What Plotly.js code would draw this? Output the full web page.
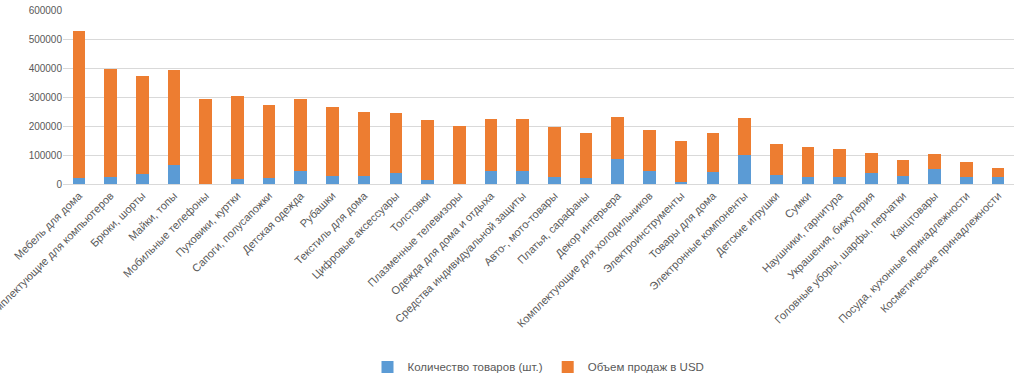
<!DOCTYPE html>
<html>
<head>
<meta charset="utf-8">
<script src="https://cdn.plot.ly/plotly-3.0.1.min.js"></script>
<style>html,body{margin:0;padding:0;background:#fff;}#chart{width:1024px;height:383px;}</style>
</head>
<body>
<div id="chart"></div>
<script>
const categories = [
  "Мебель для дома","Комплектующие для компьютеров","Брюки, шорты","Майки, топы","Мобильные телефоны",
  "Пуховики, куртки","Сапоги, полусапожки","Детская одежда","Рубашки","Текстиль для дома",
  "Цифровые аксессуары","Толстовки","Плазменные телевизоры","Одежда для дома и отдыха","Средства индивидуальной защиты",
  "Авто-, мото-товары","Платья, сарафаны","Декор интерьера","Комплектующие для холодильников","Электроинструменты",
  "Товары для дома","Электронные компоненты","Детские игрушки","Сумки","Наушники, гарнитура",
  "Украшения, бижутерия","Головные уборы, шарфы, перчатки","Канцтовары","Посуда, кухонные принадлежности","Косметические принадлежности"
];
const quantity = [
  20000, 24000, 35600, 65500, 1500,
  17200, 19600, 46000, 28700, 28700,
  37900, 14900, 1000, 44800, 43700,
  23000, 21800, 85100, 44800, 8000,
  42500, 100000, 29900, 23000, 23000,
  36800, 28700, 50600, 25300, 24100
];
const salesUSD = [
  506500, 372500, 335700, 327600, 292700,
  287400, 251700, 246000, 237900, 218500,
  205800, 205800, 199000, 180500, 179300,
  172400, 152900, 145900, 140300, 139100,
  132200, 126400, 106900, 104600, 97700,
  71200, 54100, 51700, 49400, 32200
];
const seriesNames = ["Количество товаров (шт.)", "Объем продаж в USD"];

const traces = [
  {type:"bar", name:seriesNames[0], x:categories, y:quantity, marker:{color:"#5b9bd5"}},
  {type:"bar", name:seriesNames[1], x:categories, y:salesUSD, marker:{color:"#ed7d31"}}
];
const layout = {
  width:1024, height:383,
  barmode:"stack", bargap:0.6,
  margin:{l:63, r:10, t:10, b:199},
  paper_bgcolor:"#fff", plot_bgcolor:"#fff",
  font:{family:"Liberation Sans, Arial, sans-serif", color:"#595959", size:10},
  showlegend:true,
  legend:{orientation:"h", x:0.5, xanchor:"center", yref:"container", y:0.042, yanchor:"middle", font:{size:11.5, color:"#595959"}, traceorder:"normal", itemwidth:30},
  xaxis:{tickangle:-45, tickfont:{size:11, color:"#595959"}, showline:true, linecolor:"#d9d9d9", ticks:"", automargin:false},
  yaxis:{range:[0,600000], dtick:100000, tickformat:"d", showgrid:true, gridcolor:"#d9d9d9", zeroline:false, tickfont:{size:10, color:"#595959"}, automargin:false}
};
Plotly.newPlot("chart", traces, layout, {displayModeBar:false, staticPlot:true});
</script>
</body>
</html>
